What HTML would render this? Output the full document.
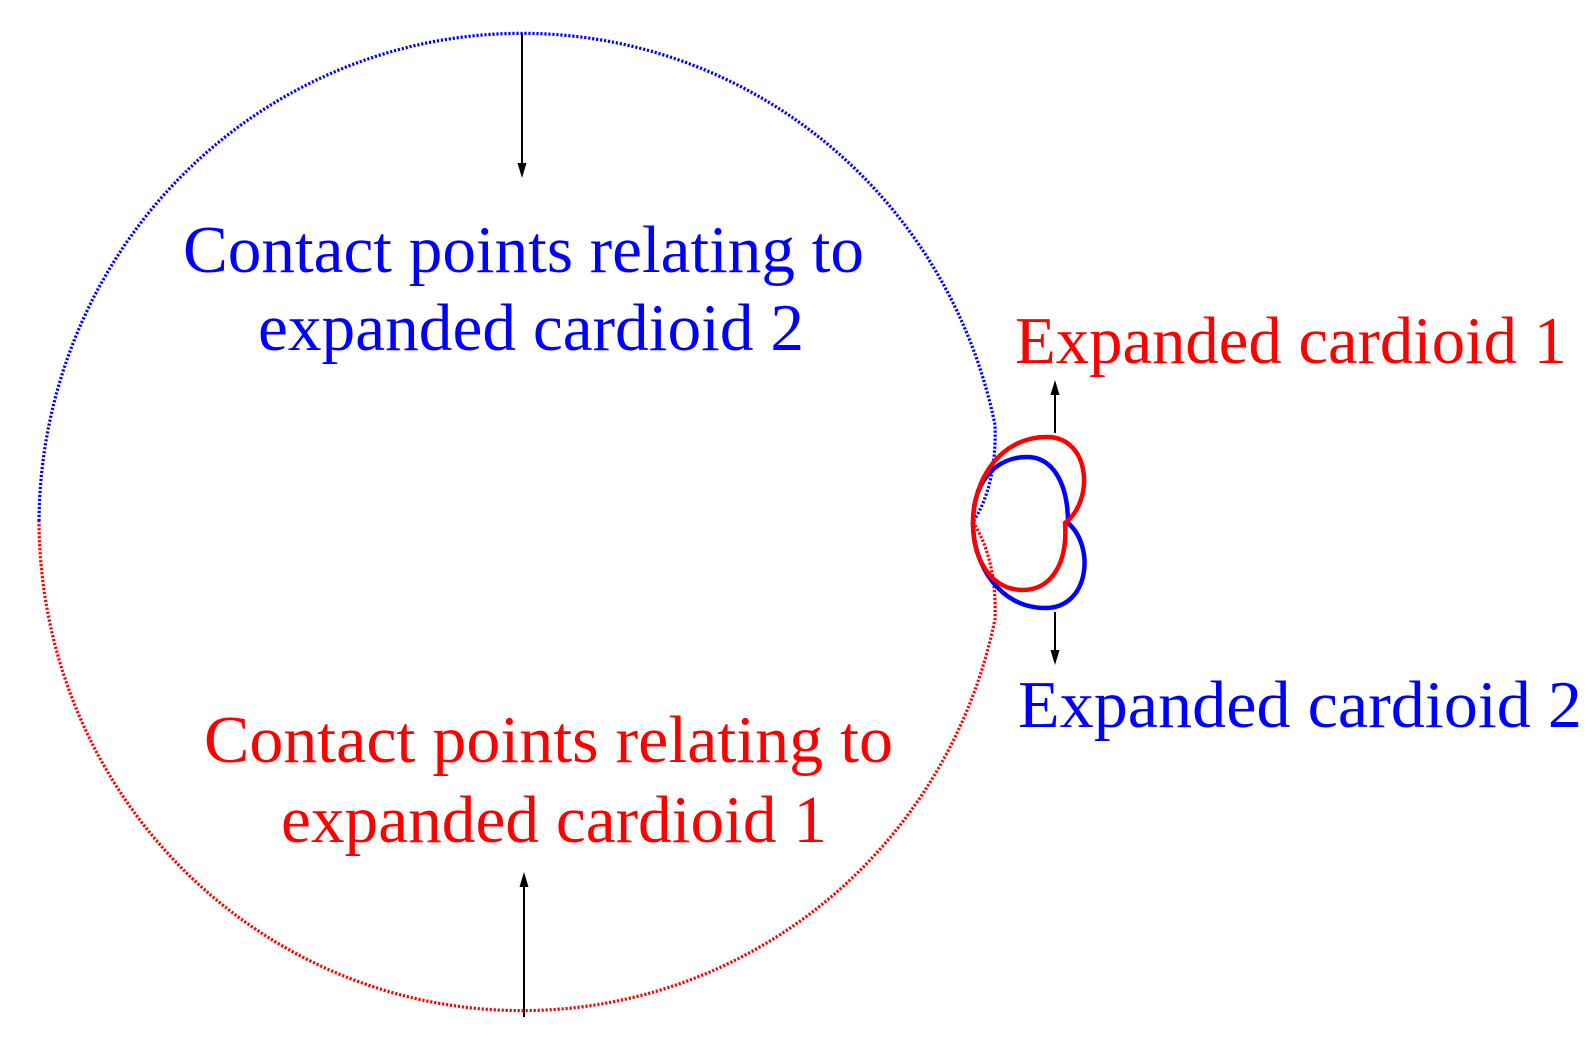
<!DOCTYPE html>
<html><head><meta charset="utf-8"><style>
html,body{margin:0;padding:0;background:#fff;}
svg{display:block;}
text{font-family:"Liberation Serif",serif;}
</style></head><body>
<svg width="1594" height="1050" viewBox="0 0 1594 1050" xmlns="http://www.w3.org/2000/svg">
<!-- dotted outer curve -->
<path d="M39 521 A483 491 0 0 1 995 425 Q997 485 973 522" fill="none" stroke="#0000ff" stroke-width="3.2" stroke-dasharray="2.2 1.8"/>
<path d="M973 522 Q997 560 995 619 A483 491 0 0 1 39 521" fill="none" stroke="#ff0000" stroke-width="3.2" stroke-dasharray="2.2 1.8"/>
<!-- cardioids -->
<path d="M1068 523 C1095 546,1090 608,1045 608 C1000 608,973 565,973 523 C973 480,997 457,1027 457 C1052 457,1068 482,1068 523 Z" fill="none" stroke="#0000ff" stroke-width="4.5"/>
<path d="M1065 523 C1095 500,1090 437,1047 437 C1000 437,973 480,973 523 C973 565,995 590,1023 590 C1050 590,1068 565,1065 523 Z" fill="none" stroke="#ff0000" stroke-width="4.5"/>
<!-- arrows -->
<g stroke="#000" stroke-width="2" fill="#000">
<line x1="522" y1="33" x2="522" y2="168"/>
<path d="M517.5 163 L526.5 163 L522 178 Z" stroke="none"/>
<line x1="524" y1="1017" x2="524" y2="882"/>
<path d="M519.5 887 L528.5 887 L524 872 Z" stroke="none"/>
<line x1="1055" y1="433" x2="1055" y2="390"/>
<path d="M1050.5 395 L1059.5 395 L1055 380 Z" stroke="none"/>
<line x1="1055" y1="612" x2="1055" y2="655"/>
<path d="M1050.5 650 L1059.5 650 L1055 665 Z" stroke="none"/>
</g>
<!-- labels -->
<text x="183" y="272" font-size="67" fill="#0000ff" textLength="681" lengthAdjust="spacingAndGlyphs">Contact points relating to</text>
<text x="258" y="350" font-size="67" fill="#0000ff" textLength="546" lengthAdjust="spacingAndGlyphs">expanded cardioid 2</text>
<text x="204" y="762" font-size="67" fill="#ff0000" textLength="689" lengthAdjust="spacingAndGlyphs">Contact points relating to</text>
<text x="281" y="842" font-size="67" fill="#ff0000" textLength="546" lengthAdjust="spacingAndGlyphs">expanded cardioid 1</text>
<text x="1015" y="363" font-size="67" fill="#ff0000" textLength="552" lengthAdjust="spacingAndGlyphs">Expanded cardioid 1</text>
<text x="1018" y="727" font-size="67" fill="#0000ff" textLength="564" lengthAdjust="spacingAndGlyphs">Expanded cardioid 2</text>
</svg>
</body></html>
